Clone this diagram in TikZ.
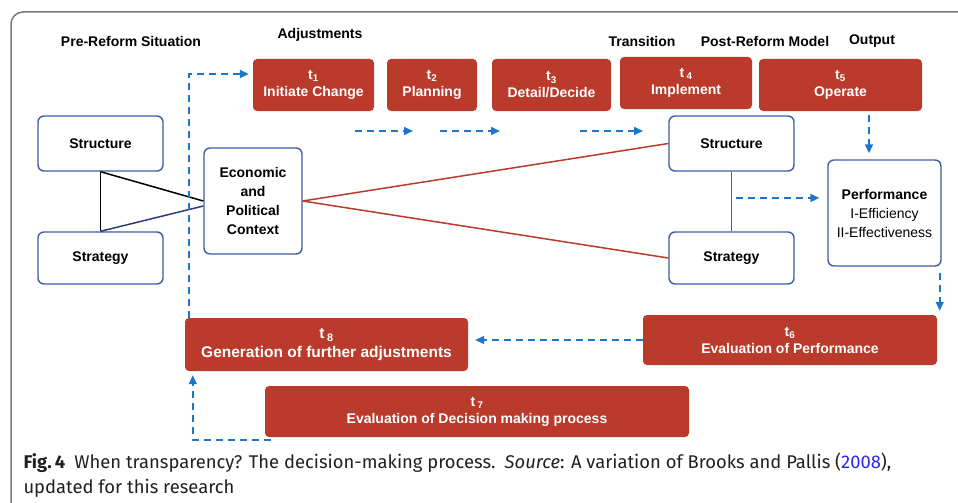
\documentclass[tikz,border=0pt]{standalone}
\usepackage{fontspec}
\setmainfont{Liberation Sans}
\newfontfamily\capfont{Fira Sans}
\usetikzlibrary{positioning,calc,arrows.meta}
\definecolor{boxred}{RGB}{186,59,43}
\definecolor{boxblue}{RGB}{62,92,164}
\definecolor{flowblue}{RGB}{30,118,200}
\definecolor{linkblue}{RGB}{45,60,120}
\definecolor{framegray}{RGB}{120,120,120}
\definecolor{captext}{RGB}{35,31,32}
\definecolor{citeblue}{RGB}{40,40,235}
\tikzset{
  every node/.style={font=\fontsize{14}{17}\selectfont\bfseries},
  part/.style={draw=boxblue,line width=1.4pt,rounded corners=6pt,fill=white,align=center,inner sep=0pt},
  phase/.style={fill=boxred,rounded corners=4pt,text=white,align=center,inner sep=0pt},
  flow/.style={->,draw=flowblue,line width=1.6pt,dash pattern=on 7pt off 5pt},
  link/.style={line width=1.5pt}
}

\begin{document}
\begin{tikzpicture}[x=1pt,y=-1pt,>={Triangle[length=9pt,width=8pt]}]
    \useasboundingbox (0,0) rectangle (958,503);
    \draw[framegray, line width=1.5pt, rounded corners=12pt] (11,503) -- (11,12) -- (960,12);

    \node at (131, 41) (pre) {Pre-Reform Situation};
    \node at (320, 35) (adj) {Adjustments};
    \node at (642, 41) (trans) {Transition};
    \node at (765, 41) (post) {Post-Reform Model};
    \node at (872, 41) (out) {Output};

    \node at (313.5, 85) [phase, minimum width=121pt, minimum height=52pt] (t1) {t\textsubscript{1}\\Initiate Change};
    \node at (432, 85) [phase, minimum width=90pt, minimum height=52pt] (t2) {t\textsubscript{2}\\Planning};
    \node at (551.5, 85) [phase, minimum width=119pt, minimum height=52pt] (t3) {t\textsubscript{3}\\Detail/Decide};
    \node at (686, 83) [phase, minimum width=132pt, minimum height=52pt] (t4) {t\,\textsubscript{4}\\Implement};
    \node at (840.5, 85) [phase, minimum width=163pt, minimum height=52pt] (t5) {t\textsubscript{5}\\Operate};

    \node at (100.5, 143.5) [part, minimum width=125pt, minimum height=55pt] (lstruct) {Structure};
    \node at (100.5, 258) [part, minimum width=125pt, minimum height=52pt] (lstrat) {Strategy};
    \node at (253, 201) [part, minimum width=98pt, minimum height=106pt, font=\fontsize{14}{19}\selectfont\bfseries] (econ) {Economic\\and\\Political\\Context};
    \node at (731.5, 143.5) [part, minimum width=125pt, minimum height=55pt] (rstruct) {Structure};
    \node at (731.5, 258) [part, minimum width=125pt, minimum height=52pt] (rstrat) {Strategy};
    \node at (884.5, 213) [part, minimum width=113pt, minimum height=106pt, font=\fontsize{14}{19}\selectfont\bfseries] (perf) {Performance\\\mdseries I-Efficiency\\\mdseries II-Effectiveness};

    \node at (326.5, 344.5) [phase, minimum width=283pt, minimum height=53pt, font=\fontsize{15.5}{19}\selectfont\bfseries] (t8) {t\,\textsubscript{8}\\Generation of further adjustments};
    \node at (790, 340) [phase, minimum width=294pt, minimum height=50pt] (t6) {t\textsubscript{6}\\Evaluation of Performance};
    \node at (477, 411.5) [phase, minimum width=424pt, minimum height=51pt] (t7) {t\,\textsubscript{7}\\Evaluation of Decision making process};

    \node at (20, 493) [anchor=base west, align=left, text=captext, font=\capfont\fontsize{18.4}{25}\selectfont] (caption) {\textbf{Fig.\,4}\enspace When transparency? The decision-making process.\enspace \textit{Source}: A variation of Brooks and Pallis (\textcolor{citeblue}{2008}),\\updated for this research};

    \path[link]
    (lstruct.south) edge (lstrat.north)
    (lstruct.south) edge (econ.west)
    (lstrat.north) edge[linkblue] ([yshift=-5pt]econ.west)
    (econ.east) edge[boxred] (rstruct.west)
    (econ.east) edge[boxred] (rstrat.west);
    \draw[link, draw=boxred, line width=1.8pt] (rstruct.south) -- (rstrat.north);

    \foreach \i/\a/\b in {1/355/413, 2/440/500, 3/580/643} {
        \coordinate (s\i) at (\a, 131);
        \coordinate (e\i) at (\b, 131);
        \draw[flow] (s\i) -- (e\i);
    }
    \coordinate (mid) at ($(rstruct.south)!0.44!(rstrat.north)$);

    \draw[flow, shorten >=4pt] ([xshift=4pt]t8.north west) |- ([yshift=11pt]t1.west);
    \draw[flow, shorten <=4pt, shorten >=6pt] ([xshift=28.5pt]t5.south) -- ([xshift=28.5pt]t5.south |- perf.north);
    \draw[flow, shorten <=4pt, shorten >=8pt] (mid) -- (mid -| perf.west);
    \draw[flow, shorten <=6pt, shorten >=4pt] ([xshift=-2pt]perf.south east) -- ([xshift=-2pt]perf.south east |- t6.north);
    \draw[flow, shorten >=7pt] (t6.west) -- (t6.west -| t8.east);
    \draw[flow, shorten >=4pt] ([xshift=6pt,yshift=-3pt]t7.south west) -| ([xshift=8pt]t8.south west);
\end{tikzpicture}
\end{document}
